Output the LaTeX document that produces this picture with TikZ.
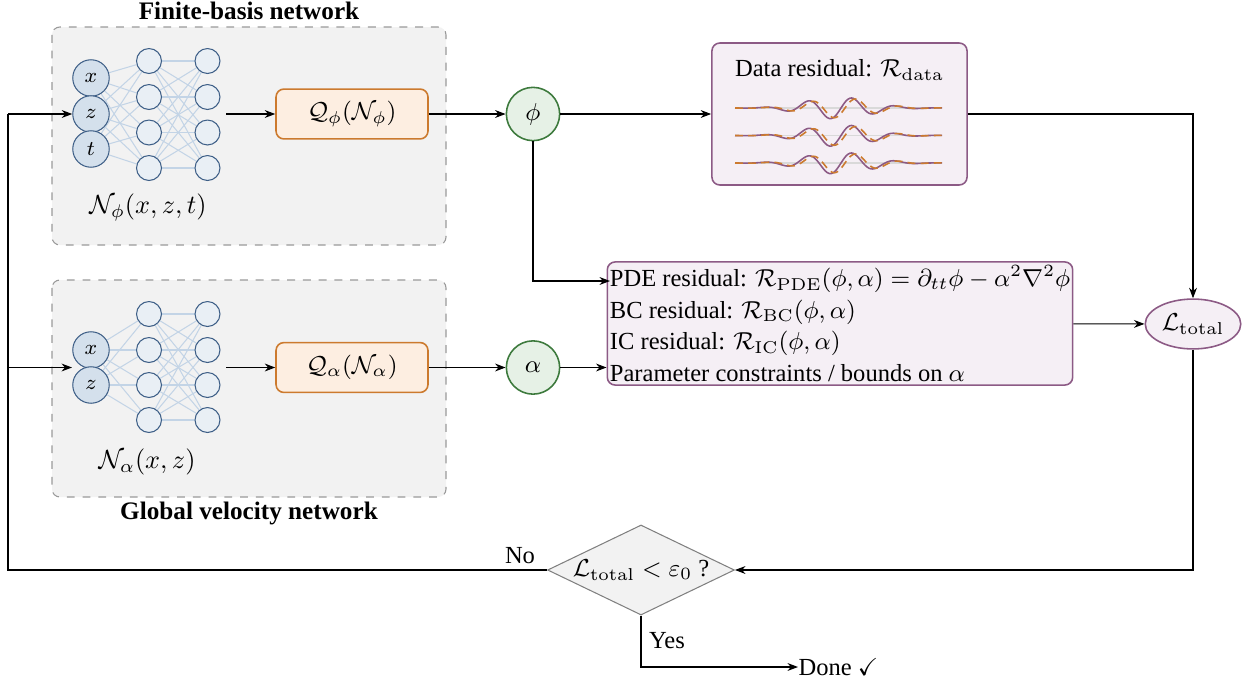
\RequirePackage{fix-cm}
\documentclass[tikz,border=0pt]{standalone}
\usepackage[no-math]{fontspec}
\setmainfont{Liberation Serif}
\usepackage{amsmath}
\usepackage{amssymb}
\usepackage{tikz}
\usetikzlibrary{arrows.meta,shapes.geometric,backgrounds}

\definecolor{netblue}{HTML}{3E5F87}
\definecolor{infill}{HTML}{D4E0EC}
\definecolor{hidfill}{HTML}{E9EFF5}
\definecolor{netedge}{HTML}{C3D4E6}
\definecolor{qborder}{HTML}{CC7A2E}
\definecolor{qfill}{HTML}{FDEEE1}
\definecolor{pborder}{HTML}{3D7A3D}
\definecolor{pfill}{HTML}{E6F1E6}
\definecolor{rborder}{HTML}{8C5A85}
\definecolor{rfill}{HTML}{F5EFF5}

\tikzset{
	netbox/.style={draw=gray!80, dashed, fill=gray!10, rounded corners=3pt},
	innode/.style={shape=circle, draw=netblue, fill=infill, minimum size=13.9pt, inner sep=0pt, font=\footnotesize},
	hidnode/.style={shape=circle, draw=netblue, fill=hidfill, minimum size=9.5pt, inner sep=0pt},
	netline/.style={draw=netedge, line width=0.4pt},
	nettitle/.style={font=\fontsize{9.6pt}{12pt}\selectfont\bfseries},
	netlabel/.style={font=\fontsize{10pt}{12pt}\selectfont},
	qbox/.style={draw=qborder, fill=qfill, rounded corners=3pt, semithick, minimum width=57.9pt, minimum height=19pt},
	param/.style={shape=circle, draw=pborder, fill=pfill, semithick, minimum size=20.3pt, inner sep=0pt},
	resbox/.style={draw=rborder, fill=rfill, rounded corners=3pt, semithick},
	lossnode/.style={shape=ellipse, draw=rborder, fill=rfill, semithick, minimum width=36pt, minimum height=19pt, inner sep=1pt},
	decnode/.style={shape=diamond, draw=gray, fill=gray!10, aspect=2, inner sep=0pt, minimum width=71.2pt, minimum height=34.3pt},
	flow/.style={-{Stealth[length=4pt,width=3pt]}, black},
}

\begin{document}
\begin{tikzpicture}[x=0.381pt, y=-0.381pt, font=\fontsize{9.35pt}{12pt}\selectfont]
	\useasboundingbox (0,0) rectangle (1247,681);

	% network frames
	\begin{scope}[on background layer]
		\draw[netbox] (52,27) rectangle (446,245);
		\draw[netbox] (52,280) rectangle (446,497);
	\end{scope}
	\node[nettitle] (fbtitle) at (249,11) {Finite-basis network};
	\node[nettitle] (gvtitle) at (249,513) {Global velocity network};

	% finite-basis network
	\foreach \i/\yy/\lab in {1/78/x,2/114/z,3/149/t}
		\node[innode] (fi\i) at (91,\yy) {$\lab$};
	\foreach \j/\yy in {1/61,2/97,3/132.5,4/168} {
		\node[hidnode] (fa\j) at (149,\yy) {};
		\node[hidnode] (fb\j) at (207.5,\yy) {};
	}
	\begin{scope}[on background layer]
		\foreach \i in {1,2,3}
			\foreach \j in {1,...,4}
				\draw[netline] (fi\i) -- (fa\j);
		\foreach \i in {1,...,4}
			\foreach \j in {1,...,4}
				\draw[netline] (fa\i) -- (fb\j);
	\end{scope}
	\node[netlabel] (fblab) at (148,207) {$\mathcal{N}_\phi(x,z,t)$};
	\coordinate (fout) at (226,114);
	\node[qbox] (fq) at (352,114) {$\mathcal{Q}_\phi(\mathcal{N}_\phi)$};
	\node[param] (phi) at (533,114) {$\phi$};

	% global velocity network
	\foreach \i/\yy/\lab in {1/350/x,2/385/z}
		\node[innode] (gi\i) at (91,\yy) {$\lab$};
	\foreach \j/\yy in {1/314,2/350,3/385,4/420} {
		\node[hidnode] (ga\j) at (149,\yy) {};
		\node[hidnode] (gb\j) at (207.5,\yy) {};
	}
	\begin{scope}[on background layer]
		\foreach \i in {1,2}
			\foreach \j in {1,...,4}
				\draw[netline] (gi\i) -- (ga\j);
		\foreach \i in {1,...,4}
			\foreach \j in {1,...,4}
				\draw[netline] (ga\i) -- (gb\j);
	\end{scope}
	\node[netlabel] (gvlab) at (147,462) {$\mathcal{N}_\alpha(x,z)$};
	\coordinate (gin) at (72,367.5);
	\coordinate (gout) at (226,367.5);
	\node[qbox] (gq) at (352,367.5) {$\mathcal{Q}_\alpha(\mathcal{N}_\alpha)$};
	\node[param] (alpha) at (533,367.5) {$\alpha$};

	% residuals and loss
	\node[resbox, minimum width=97.2pt, minimum height=54.1pt] (data) at (839.5,114) {};
	\node (datatitle) at (839.5,70) {Data residual: $\mathcal{R}_{\mathrm{data}}$};
	\foreach \r in {108,135.5,163} {
		\draw[gray!30, line width=0.4pt] (735,\r) -- (942,\r);
		\draw[rborder, semithick] plot[domain=735:942, samples=120, smooth]
			(\x, {\r + 11*exp(-((\x-838)/45)^2)*cos(8.1818*(\x-830))});
		\draw[qborder, semithick, dash pattern=on 3pt off 2pt] plot[domain=735:942, samples=120, smooth]
			(\x, {\r + 10*exp(-((\x-841)/45)^2)*cos(8.1818*(\x-834))});
	}
	\node[resbox, align=left, minimum width=175.3pt, minimum height=46.9pt, inner sep=1pt] (pde) at (840,323.5)
		{PDE residual: $\mathcal{R}_{\mathrm{PDE}}(\phi,\alpha) = \partial_{tt}\phi - \alpha^2\nabla^2\phi$\\
		BC residual: $\mathcal{R}_{\mathrm{BC}}(\phi,\alpha)$\\
		IC residual: $\mathcal{R}_{\mathrm{IC}}(\phi,\alpha)$\\
		Parameter constraints / bounds on $\alpha$};
	\coordinate (pdein) at (610,281);
	\node[lossnode] (loss) at (1193,324) {$\mathcal{L}_{\mathrm{total}}$};
	\node[decnode] (dec) at (641,570) {$\mathcal{L}_{\mathrm{total}} < \varepsilon_0$ ?};
	\node[anchor=west, inner sep=0pt] (done) at (798,667) {Done $\checkmark$};
	\node (nolab) at (520,556) {No};
	\node (yeslab) at (667,641) {Yes};
	\coordinate (loopB) at (8,570);
	\coordinate (loopT) at (8,114);
	\coordinate (loopM) at (8,367.5);

	% connectors
	\draw[flow] (fout) -- (fq);
	\draw[flow] (fq) -- (phi);
	\draw[flow] (phi) -- (data);
	\draw[flow] (phi) |- (pdein);
	\draw[flow] (gout) -- (gq);
	\draw[flow] (gq) -- (alpha);
	\draw[flow] (alpha) -- (alpha -| pde.west);
	\draw[flow] (data) -| (loss);
	\draw[flow] (pde) -- (loss);
	\draw[flow] (loss) |- (dec);
	\draw (dec) -- (loopB) -- (loopT);
	\draw[flow] (loopT) -- (fi2);
	\draw[flow] (loopM) -- (gin);
	\draw[flow] (dec) |- (done);

\end{tikzpicture}
\end{document}
